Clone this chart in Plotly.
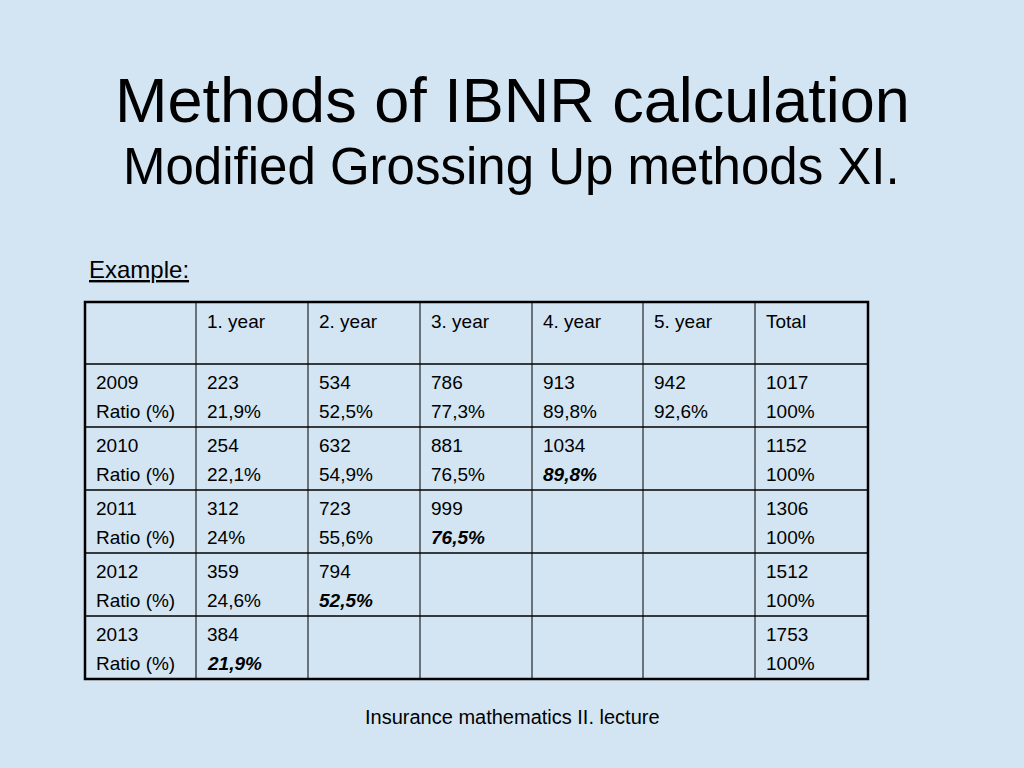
import plotly.graph_objects as go

headers = ["", "1. year", "2. year", "3. year", "4. year", "5. year", "Total"]
years = ["2009", "2010", "2011", "2012", "2013"]
values = [[223, 534, 786, 913, 942], [254, 632, 881, 1034], [312, 723, 999], [359, 794], [384]]
ratios = [["21,9%", "52,5%", "77,3%", "89,8%", "92,6%"], ["22,1%", "54,9%", "76,5%", "89,8%"],
          ["24%", "55,6%", "76,5%"], ["24,6%", "52,5%"], ["21,9%"]]
totals = [1017, 1152, 1306, 1512, 1753]
bold_ratio = [False, True, True, True, True]

col_x = [85, 196, 308, 420, 532, 643, 755, 868]
row_y = [302, 364, 427, 490, 553, 616, 679]

fig = go.Figure()
font = "Liberation Sans, Arial"
ann = []
shapes = []

def txt(x, y, s, size=19, anchor="left", bold_it=False):
    if bold_it:
        s = "<b><i>" + s + "</i></b>"
    ann.append(dict(x=x, y=y, text=s, showarrow=False, xanchor=anchor, yanchor="middle",
                    font=dict(family=font, size=size, color="black")))

for c, h in enumerate(headers):
    if h:
        txt(col_x[c] + 9, row_y[0] + 19, h)

for r, yr in enumerate(years):
    top = row_y[r + 1]
    l1, l2 = top + 18, top + 47
    txt(col_x[0] + 9, l1, yr)
    txt(col_x[0] + 9, l2, "Ratio (%)")
    n = len(values[r])
    for c in range(n):
        txt(col_x[c + 1] + 9, l1, str(values[r][c]))
        txt(col_x[c + 1] + 9, l2, ratios[r][c], bold_it=(c == n - 1 and bold_ratio[r]))
    txt(col_x[6] + 9, l1, str(totals[r]))
    txt(col_x[6] + 9, l2, "100%")

for x in col_x[1:-1]:
    shapes.append(dict(type="line", x0=x, x1=x, y0=row_y[0], y1=row_y[-1], line=dict(color="black", width=1)))
for y in row_y[1:-1]:
    shapes.append(dict(type="line", x0=col_x[0], x1=col_x[-1], y0=y, y1=y, line=dict(color="black", width=1.5)))
shapes.append(dict(type="rect", x0=col_x[0], x1=col_x[-1], y0=row_y[0], y1=row_y[-1], line=dict(color="black", width=2.5)))

txt(512, 100, "Methods of IBNR calculation", size=63, anchor="center")
txt(511, 166, "Modified Grossing Up methods XI.", size=51, anchor="center")
txt(87, 269, "<u>Example:</u>", size=24)
txt(512, 717, "Insurance mathematics II. lecture", size=20, anchor="center")

fig.update_layout(width=1024, height=768, margin=dict(l=0, r=0, t=0, b=0),
                  paper_bgcolor="#d3e5f3", plot_bgcolor="#d3e5f3",
                  xaxis=dict(range=[0, 1024], visible=False, fixedrange=True),
                  yaxis=dict(range=[768, 0], visible=False, fixedrange=True),
                  annotations=ann, shapes=shapes, showlegend=False)
fig.write_html("out.html", config={"displayModeBar": False},
               post_script="document.body.style.margin='0';document.body.style.background='#d3e5f3';")
